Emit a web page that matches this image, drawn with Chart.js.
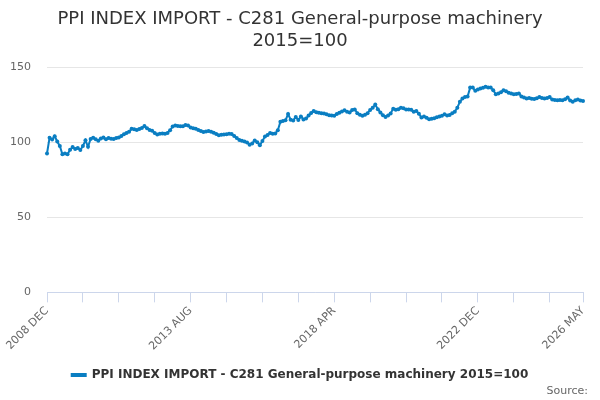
<!DOCTYPE html>
<html>
<head>
<meta charset="utf-8">
<script src="https://cdn.jsdelivr.net/npm/chart.js@4.4.1/dist/chart.umd.min.js"></script>
<style>
  html, body { margin: 0; padding: 0; background: #fff; }
  #wrap { width: 600px; height: 400px; }
</style>
</head>
<body>
<div id="wrap"><canvas id="chart"></canvas></div>
<script>
const MONTHS = ['JAN', 'FEB', 'MAR', 'APR', 'MAY', 'JUN', 'JUL', 'AUG', 'SEP', 'OCT', 'NOV', 'DEC'];

// 2008 DEC .. 2026 MAY, one label per month
const periods = [];
for (let y = 2008, m = 11; y < 2026 || m <= 4; ) {
    periods.push(y + ' ' + MONTHS[m]);
    m++;
    if (m === 12) { m = 0; y++; }
}

const labelledPeriods = ['2008 DEC', '2013 AUG', '2018 APR', '2022 DEC', '2026 MAY'];
const yTicks = [0, 50, 100, 150];

// index values, month by month
const ppiValues = [
    92.5, 103, 101.8, 104, 100.5, 97.5, 92, 92.5, 92, 95,
    96.8, 95.5, 96.2, 94.8, 97.5, 101.3, 97, 102.2, 103, 102,
    101, 102.5, 103.1, 102, 102.9, 102.4, 102.2, 102.8, 103.1, 104.2,
    105.4, 106.2, 107, 109, 108.6, 108.2, 108.8, 109.5, 110.8, 109.3,
    108.2, 107.6, 106.2, 105.2, 105.6, 105.8, 105.6, 106.2, 108, 110.5,
    111.2, 110.8, 110.6, 110.7, 111.5, 111.2, 109.8, 109.3, 109, 108.2,
    107.5, 106.9, 107.2, 107.5, 107, 106.4, 105.5, 104.7, 105, 105.2,
    105.4, 105.7, 105.5, 104.1, 102.8, 101.5, 101, 100.5, 99.8, 98.4,
    99.2, 101.2, 100, 98, 100.8, 103.8, 104.8, 106.2, 105.6, 105.8,
    108, 113.6, 114.2, 114.6, 118.8, 115, 114.5, 116.9, 114.8, 117.2,
    115.2, 115.8, 117.8, 119.5, 120.8, 120, 119.6, 119.3, 119.1, 118.6,
    118, 117.8, 117.6, 118.8, 119.6, 120.5, 121.3, 120.3, 119.8, 121.5,
    121.8, 119.4, 118.3, 117.6, 118.3, 119.3, 121.5, 123, 125.1, 122,
    119.8, 118, 116.9, 117.8, 119.2, 122.4, 121.6, 122, 123, 122.6,
    121.8, 121.9, 121.6, 120.3, 120.9, 119, 116.5, 117.2, 116.3, 115.4,
    115.6, 116, 116.6, 117.2, 117.6, 118.6, 117.8, 118.1, 119.3, 120.4,
    123, 127, 129.2, 130.2, 130.4, 136.4, 136.4, 134.3, 135.2, 135.8,
    136.3, 136.9, 136.5, 136.4, 134.7, 132, 132.4, 133.3, 134.7, 134,
    132.9, 132.4, 132, 132.2, 132.4, 130.5, 129.8, 129.1, 129.4, 129,
    128.8, 129.3, 130.2, 129.5, 129.1, 129.4, 130.1, 128.4, 128.2, 128,
    128.1, 128, 128.6, 129.8, 127.8, 126.9, 127.9, 128.4, 127.8, 127.4
];

const SERIES_NAME = 'PPI INDEX IMPORT - C281 General-purpose machinery 2015=100';
const LINE_COLOR = '#0a7ec2';
const TICK_EVERY = 14;
const FONT = '"DejaVu Sans", sans-serif';

// "Source:" credit in the bottom right corner
const sourceCredit = {
    id: 'sourceCredit',
    afterDraw(chart) {
        const c = chart.ctx;
        c.save();
        c.font = '11px ' + FONT;
        c.fillStyle = '#666666';
        c.textAlign = 'right';
        c.textBaseline = 'middle';
        c.fillText('Source:', chart.width - 12, chart.height - 9);
        c.restore();
    }
};

const ctx = document.getElementById('chart').getContext('2d');
new Chart(ctx, {
    type: 'line',
    data: {
        labels: periods,
        datasets: [{
            label: SERIES_NAME,
            data: ppiValues,
            borderColor: LINE_COLOR,
            backgroundColor: LINE_COLOR,
            borderWidth: 2,
            pointRadius: 2,
            pointBorderWidth: 0,
            pointBackgroundColor: LINE_COLOR,
            tension: 0
        }]
    },
    plugins: [sourceCredit],
    options: {
        responsive: true,
        maintainAspectRatio: false,
        animation: false,
        layout: { padding: { left: 0, right: 0, top: 4, bottom: 9 } },
        plugins: {
            title: {
                display: true,
                text: ['PPI INDEX IMPORT - C281 General-purpose machinery', '2015=100'],
                color: '#333333',
                font: { family: FONT, size: 18, weight: 'normal', lineHeight: 1.2 },
                padding: { top: 5, bottom: 15 }
            },
            legend: {
                position: 'bottom',
                labels: {
                    color: '#333333',
                    font: { family: FONT, size: 12, weight: 'bold' },
                    boxWidth: 14,
                    boxHeight: 2,
                    padding: 2
                }
            },
            tooltip: { enabled: false }
        },
        scales: {
            x: {
                afterFit: function (scale) {
                    scale.height += 12;
                },
                ticks: {
                    autoSkip: false,
                    maxRotation: 45,
                    minRotation: 45,
                    color: '#666666',
                    font: { family: FONT, size: 11 },
                    padding: 2,
                    callback: function (val, idx) {
                        const lab = periods[idx];
                        if (labelledPeriods.includes(lab)) return lab;
                        if (idx % TICK_EVERY === 0) return '';
                        return null;
                    }
                },
                grid: {
                    drawOnChartArea: false,
                    drawTicks: true,
                    tickLength: 10,
                    color: '#ccd6eb'
                },
                border: { display: true, color: '#ccd6eb' }
            },
            y: {
                min: yTicks[0],
                max: yTicks[yTicks.length - 1],
                afterBuildTicks: function (scale) {
                    scale.ticks = yTicks.map(v => ({ value: v }));
                },
                afterFit: function (scale) {
                    scale.width = 47;
                },
                ticks: {
                    color: '#666666',
                    font: { family: FONT, size: 11 },
                    padding: 16
                },
                grid: {
                    color: '#e6e6e6',
                    drawTicks: false
                },
                border: { display: false }
            },
            // empty right-hand gutter so the plot stops short of the edge
            yGutter: {
                type: 'linear',
                position: 'right',
                display: true,
                afterFit: function (scale) {
                    scale.width = 17;
                },
                ticks: { display: false },
                grid: { display: false, drawTicks: false },
                border: { display: false }
            }
        }
    }
});
</script>
</body>
</html>
